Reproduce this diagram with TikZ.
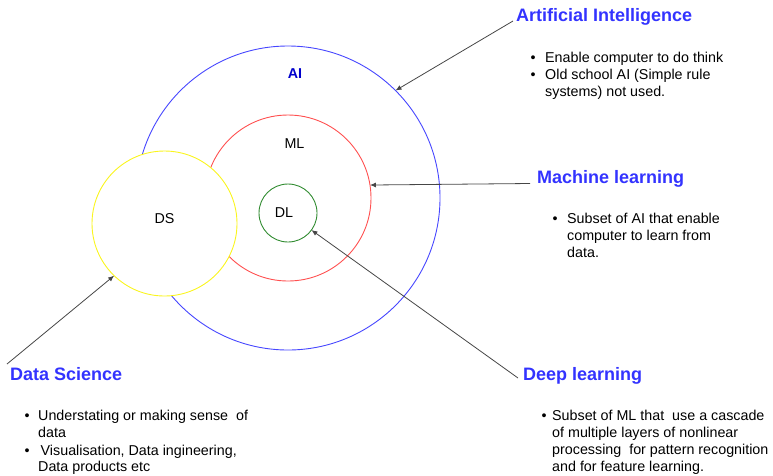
\documentclass[tikz,border=0pt]{standalone}
\usepackage{fontspec}
\setmainfont{Liberation Sans}
\usetikzlibrary{arrows.meta}

\definecolor{headblue}{RGB}{51,51,255}
\definecolor{aiblue}{RGB}{0,0,204}
\definecolor{ringblue}{RGB}{70,70,255}
\definecolor{ringred}{RGB}{255,80,80}
\definecolor{ringyellow}{RGB}{250,245,30}
\definecolor{ringgreen}{RGB}{50,140,50}
\definecolor{pointer}{RGB}{70,70,70}

\tikzset{
  ring/.style={circle, inner sep=0pt, outer sep=0pt, line width=0.9pt},
  heading/.style={font=\fontsize{18}{22}\selectfont\bfseries, text=headblue,
                  anchor=base west, inner sep=0pt},
  body/.style={font=\fontsize{14.3}{17}\selectfont, anchor=base west, inner sep=0pt},
  ringlabel/.style={font=\fontsize{14.3}{17}\selectfont, inner sep=0pt},
  pointerline/.style={draw=pointer, line width=0.8pt,
                      -{Latex[length=6pt,width=5pt]}}
}

\begin{document}
\begin{tikzpicture}[x=1pt,y=-1pt]
\useasboundingbox (0,0) rectangle (773,475);

% nested rings
\node[ring, draw=ringblue,  minimum size=304pt] (aic) at (288,198) {};
\node[ring, draw=ringred,   minimum size=166pt] (mlc) at (288,198) {};
\node[ring, draw=ringgreen, minimum size=58pt]  (dlc) at (288,213) {};
\node[ring, draw=ringyellow, fill=white, minimum size=145pt] (dsc) at (164.5,223.5) {};

% ring labels
\node[ringlabel, font=\fontsize{14.3}{17}\selectfont\bfseries, text=aiblue] (ailab) at (295,74) {AI};
\node[ringlabel] (mllab) at (294.5,143.5) {ML};
\node[ringlabel] (dslab) at (164.5,219) {DS};
\node[ringlabel] (dllab) at (284,212.5) {DL};

% Artificial Intelligence
\node[heading] (aihead) at (516,21) {Artificial Intelligence};
\node[body] (aib1) at (530.5,62) {•};
\node[body] (ait1) at (545,62) {Enable computer to do think};
\node[body] (aib2) at (530.5,79) {•};
\node[body] (ait2) at (545,79) {Old school AI (Simple rule};
\node[body] (ait3) at (545,96) {systems) not used.};

% Machine learning
\node[heading] (mlhead) at (537,183) {Machine learning};
\node[body] (mlb1) at (552.5,223) {•};
\node[body] (mlt1) at (567,223) {Subset of AI that enable};
\node[body] (mlt2) at (567,240) {computer to learn from};
\node[body] (mlt3) at (567,257) {data.};

% Data Science
\node[heading] (dshead) at (10,380) {Data Science};
\node[body] (dsb1) at (24.5,420) {•};
\node[body] (dst1) at (38,420) {Understating or making sense\ \ of};
\node[body] (dst2) at (38,437) {data};
\node[body] (dsb2) at (24.5,455) {•};
\node[body] (dst3) at (40.5,455) {Visualisation, Data ingineering,};
\node[body] (dst4) at (38,471.5) {Data products etc};

% Deep learning
\node[heading] (dlhead) at (523,380) {Deep learning};
\node[body] (dlb1) at (541.5,420) {•};
\node[body] (dlt1) at (552,420) {Subset of ML that\ \ use a cascade};
\node[body] (dlt2) at (552,437.5) {of multiple layers of nonlinear};
\node[body] (dlt3) at (552,454.5) {processing\ \ for pattern recognition};
\node[body] (dlt4) at (552,471.5) {and for feature learning.};

% pointer lines from headings to rings
\coordinate (aistart) at (513,21);
\coordinate (mlstart) at (530,183.5);
\coordinate (dlstart) at (518,378);
\coordinate (dsstart) at (7,364);

\draw[pointerline] (aistart) -- (aic.45);
\draw[pointerline] (mlstart) -- (mlc.9.6);
\draw[pointerline] (dlstart) -- (dlc.-36);
\draw[pointerline] (dsstart) -- (dsc.226);
\end{tikzpicture}
\end{document}
